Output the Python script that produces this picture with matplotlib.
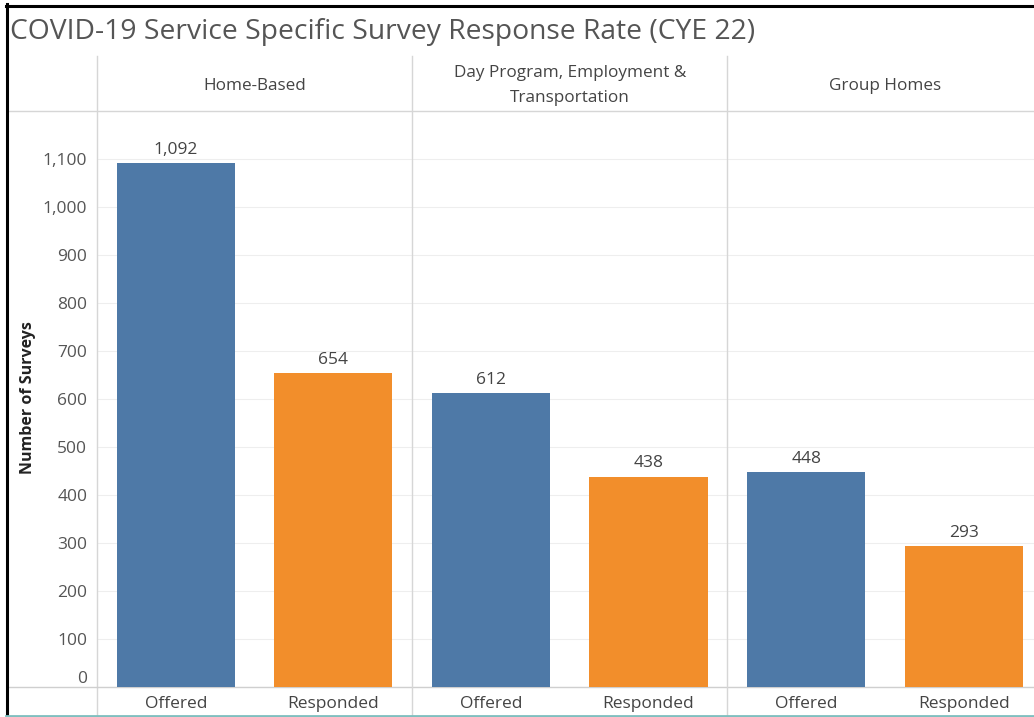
import matplotlib
matplotlib.use("Agg")
import matplotlib.pyplot as plt
from matplotlib.lines import Line2D
from matplotlib.transforms import blended_transform_factory
from matplotlib.ticker import FuncFormatter

# ---- data ----
groups = ["Home-Based", "Day Program, Employment &\nTransportation", "Group Homes"]
measures = ["Offered", "Responded"]
offered = [1092, 612, 448]
responded = [654, 438, 293]
title = "COVID-19 Service Specific Survey Response Rate (CYE 22)"
ylabel = "Number of Surveys"

BLUE = "#4e79a7"
ORANGE = "#f28e2b"
TXT = "#444444"
GRID = "#eeeeee"
SEP = "#d6d6d6"

plt.rcParams["font.family"] = ["Open Sans", "DejaVu Sans"]

W, H = 1034, 717
fig = plt.figure(figsize=(W / 100, H / 100), dpi=100)

def fx(px):
    return px / W

def fy(py):
    return 1 - py / H

slot = 157.6
left_px, top_px, base_px = 97, 111, 687
ax = fig.add_axes([fx(left_px), fy(base_px), fx(6 * slot), (base_px - top_px) / H])

values = []
colors = []
labels = []
for o, r in zip(offered, responded):
    values += [o, r]
    colors += [BLUE, ORANGE]
    labels += measures
xs = list(range(len(values)))
ax.bar(xs, values, width=0.75, color=colors, zorder=3)
for x, v in zip(xs, values):
    ax.text(x, v + 11, f"{v:,}", ha="center", va="bottom", fontsize=12.5, color=TXT, zorder=4)

ax.set_xlim(-0.5, len(values) - 0.5)
ax.set_ylim(0, 1200)
ax.set_yticks(range(0, 1200, 100))
ax.yaxis.set_major_formatter(FuncFormatter(lambda v, p: f"{int(v):,}"))
ax.tick_params(axis="y", length=0, pad=7, labelsize=12.5, labelcolor="#555555")
ax.grid(axis="y", color=GRID, linewidth=0.8, zorder=0)
ax.set_xticks(xs)
ax.set_xticklabels(labels)
ax.tick_params(axis="x", length=0, pad=6.5, labelsize=12.5, labelcolor=TXT)
for s in ["top", "right", "left"]:
    ax.spines[s].set_visible(False)
ax.spines["bottom"].set_color("#cfcfcf")
ax.spines["bottom"].set_linewidth(1.0)
ax.yaxis.get_majorticklabels()[0].set_va("bottom")

# axis title
fig.text(fx(28), fy(398), ylabel, rotation=90, ha="center", va="center",
         fontsize=11.5, fontweight="bold", color="#222222")

# title
fig.text(fx(10), fy(32.5), title, ha="left", va="center", fontsize=20.3, color="#555555")

# header labels
tr = blended_transform_factory(ax.transData, fig.transFigure)
for i, g in enumerate(groups):
    fig.text(2 * i + 0.5, fy(85.5), g, transform=tr, ha="center", va="center",
             fontsize=12.3, color=TXT, linespacing=1.7)

# separators
for xb in [-0.5, 1.5, 3.5]:
    fig.add_artist(Line2D([xb, xb], [fy(56), fy(716)], transform=tr, color=SEP, linewidth=1.0))
fig.add_artist(Line2D([fx(8), 1], [fy(111), fy(111)], transform=fig.transFigure, color=SEP, linewidth=1.0))
fig.add_artist(Line2D([fx(8), fx(left_px)], [fy(687), fy(687)], transform=fig.transFigure, color="#cfcfcf", linewidth=1.0))

# frame
fig.add_artist(Line2D([fx(6.5), fx(6.5)], [fy(4), fy(717)], transform=fig.transFigure, color="black", linewidth=2.2))
fig.add_artist(Line2D([fx(5.5), 1], [fy(5.5), fy(5.5)], transform=fig.transFigure, color="black", linewidth=2.2))
fig.add_artist(Line2D([fx(6), 1], [fy(715.5), fy(715.5)], transform=fig.transFigure, color="#7fbfbf", linewidth=2))

fig.savefig("out.png", dpi=100)
